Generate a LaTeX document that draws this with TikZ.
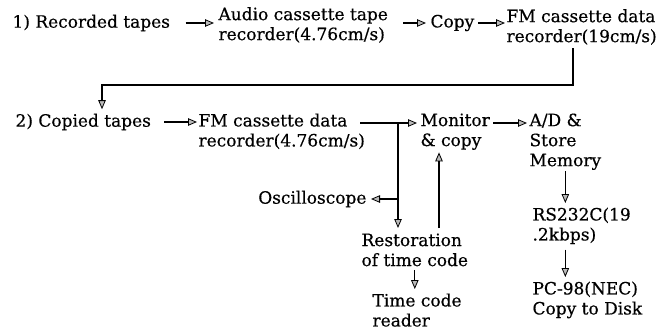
\documentclass[tikz,border=0pt]{standalone}
\usepackage{fontspec}
\setmainfont{DejaVu Serif}[FakeBold=0.5]
\usetikzlibrary{arrows.meta,positioning}

\begin{document}
\begin{tikzpicture}[x=1pt,y=-1pt,->,>={Triangle[length=9pt,width=7.5pt,fill=gray!55,line width=0.8pt]},
                    line width=1.1pt,font=\fontsize{17}{20}\selectfont]
  \tikzstyle{every node}=[inner sep=0pt,align=left]
  \useasboundingbox (0,0) rectangle (664,332);

  % 1) first pass
  \node[anchor=west]       (rec)  at (12,23)   {1) Recorded tapes};
  \node[anchor=west]       (aud)  at (218,25)  {Audio cassette tape\\recorder(4.76cm/s)};
  \node[anchor=west]       (cpy)  at (430,23)  {Copy};
  \node[anchor=west]       (fm1)  at (506,27)  {FM cassette data\\recorder(19cm/s)};

  % 2) second pass
  \node[anchor=west]       (cop)  at (15,122)  {2) Copied tapes};
  \node[anchor=north west] (fm2)  at (198,113) {FM cassette data\\recorder(4.76cm/s)};
  \node[anchor=north west] (mon)  at (420,113) {Monitor\\\& copy};
  \node[anchor=north west] (ad)   at (529,113) {A/D \&\\Store\\Memory};
  \node[anchor=north west] (rs)   at (532,207) {RS232C(19\\.2kbps)};
  \node[anchor=north west] (pc)   at (532,281) {PC-98(NEC)\\Copy to Disk};
  \node[anchor=east]       (osc)  at (367,199) {Oscilloscope};
  \node[anchor=north west] (rest) at (361,233) {Restoration\\of time code};
  \node[anchor=north west] (tcr)  at (372,293) {Time code\\reader};

  \coordinate (drop)  at (573,85);
  \coordinate (turn)  at (102,85);
  \coordinate (split) at (398,123);
  \coordinate (oscj)  at (398,199);
  \coordinate (up)    at (439,145);

  \draw[shorten <=15pt,shorten >=4pt] (rec.east) -- (rec.east -| aud.west);
  \draw[shorten <=15pt,shorten >=4pt] (aud.east |- cpy.west) -- (cpy.west);
  \draw[shorten <=3pt,shorten >=1pt] (cpy.east) -- (cpy.east -| fm1.west);
  \draw[shorten <=3pt,shorten >=4pt] (fm1.south -| drop) -- (drop) -- (turn) -- (turn |- cop.north);

  \draw[shorten <=13pt,shorten >=1pt] (cop.east) -- (cop.east -| fm2.west);
  \draw[shorten <=-5pt,shorten >=3pt] (fm2.east |- split) -- (mon.west |- split);
  \draw[shorten >=5pt] (split) -- (split |- rest.north);
  \draw[shorten >=4pt] (oscj) -- (osc.east);
  \draw[shorten <=5pt,shorten >=2pt] (rest.north -| up) -- (mon.south -| up);
  \draw[shorten <=3pt,shorten >=2pt] (mon.east |- split) -- (ad.west |- split);
  \draw[shorten <=1pt,shorten >=4pt] (ad.south) -- (ad.south |- rs.north);
  \draw[shorten <=5pt,shorten >=4pt] (ad.south |- rs.south) -- (ad.south |- pc.north);
  \draw[shorten <=3pt,shorten >=4pt] (rest.south) -- (rest.south |- tcr.north);
\end{tikzpicture}
\end{document}
